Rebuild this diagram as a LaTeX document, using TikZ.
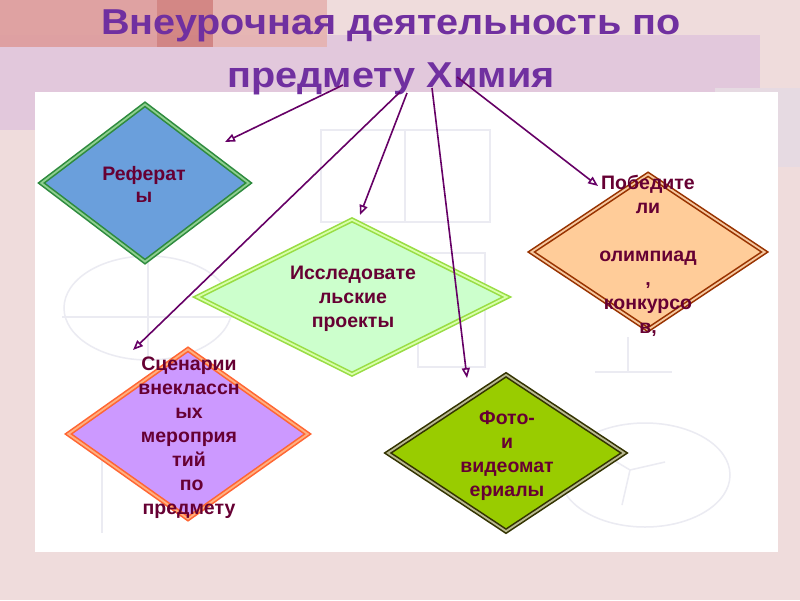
\documentclass[tikz,border=0pt]{standalone}
\usepackage{fontspec}
\setmainfont{Liberation Sans}
\usepackage{xcolor}
\usetikzlibrary{shapes.geometric,arrows.meta}
\definecolor{slidebg}{HTML}{EFDCDC}
\definecolor{lilac}{HTML}{E2C8DC}
\definecolor{rosea}{HTML}{DE9C9C}
\definecolor{roseb}{HTML}{D07E7C}
\definecolor{rosec}{HTML}{E6B2B0}
\definecolor{greyl}{HTML}{E6DAE2}
\definecolor{ghost}{HTML}{EBEBF2}
\definecolor{ttl}{HTML}{7030A0}
\definecolor{ink}{HTML}{660033}
\definecolor{arr}{HTML}{660066}
\definecolor{refbg}{HTML}{6A9FDC}
\definecolor{refdk}{HTML}{2E8B3E}
\definecolor{reflt}{HTML}{8FD08F}
\definecolor{resbg}{HTML}{CCFFCC}
\definecolor{resdk}{HTML}{99DD44}
\definecolor{reslt}{HTML}{D8FFAA}
\definecolor{winbg}{HTML}{FFCC99}
\definecolor{windk}{HTML}{993300}
\definecolor{winlt}{HTML}{F5C8A0}
\definecolor{scnbg}{HTML}{CC99FF}
\definecolor{scndk}{HTML}{FF6633}
\definecolor{scnlt}{HTML}{FFB080}
\definecolor{vidbg}{HTML}{99CC00}
\definecolor{viddk}{HTML}{333300}
\definecolor{vidlt}{HTML}{B8B890}

\begin{document}
\begin{tikzpicture}[x=1pt, y=-1pt, >={Triangle[open, length=10pt, width=8pt]},
    rhomb/.style={diamond, inner sep=0pt, line width=1.6pt, double distance=1.8pt},
    lbl/.style={text=ink, font=\fontsize{19.5}{24}\selectfont\bfseries, align=center, inner sep=0pt},
    link/.style={->, arr, line width=1.6pt},
    ghostline/.style={ghost, line width=1.5pt}]
    \fill[slidebg] (0,0) rectangle (800,600);
    \useasboundingbox (0,0) rectangle (800,600);
    \fill[lilac] (0,35) rectangle (760,130);
    \fill[rosea, opacity=.9] (0,0) rectangle (157,47);
    \fill[roseb, opacity=.9] (157,0) rectangle (213,47);
    \fill[rosec, opacity=.9] (213,0) rectangle (327,47);
    \fill[greyl] (715,88) rectangle (800,167);
    \fill[white] (35,92) rectangle (778,552);
    \draw[ghostline] (321,130) rectangle (405,222);
    \draw[ghostline] (405,130) rectangle (490,222);
    \draw[ghostline] (148,308) ellipse (84pt and 52pt);
    \draw[ghostline] (62,317) -- (234,317);
    \draw[ghostline] (148,256) -- (148,360);
    \draw[ghostline] (418,253) rectangle (485,367);
    \draw[ghostline] (628,337) -- (628,372);
    \draw[ghostline] (595,372) -- (672,372);
    \draw[ghostline] (645,475) ellipse (85pt and 52pt);
    \draw[ghostline] (605,455) -- (630,470) -- (665,462);
    \draw[ghostline] (630,470) -- (622,505);
    \draw[ghostline] (102,443) -- (102,533);

    \node[rhomb, fill=refbg, draw=refdk, double=reflt, minimum width=208pt, minimum height=158pt] (ref) at (145,183) {};
    \node[rhomb, fill=resbg, draw=resdk, double=reslt, minimum width=310pt, minimum height=155pt] (res) at (352,297) {};
    \node[rhomb, fill=winbg, draw=windk, double=winlt, minimum width=234pt, minimum height=156pt] (win) at (648,252) {};
    \node[rhomb, fill=scnbg, draw=scndk, double=scnlt, minimum width=240pt, minimum height=170pt] (scn) at (188,434) {};
    \node[rhomb, fill=vidbg, draw=viddk, double=vidlt, minimum width=237pt, minimum height=157pt] (vid) at (506,453) {};

    \node[lbl, font=\fontsize{19.5}{22}\selectfont\bfseries] (t-ref) at (144,184) {Реферат\\ы};
    \node[lbl] (t-res) at (353,299) {Исследовате\\льские\\проекты};
    \node[lbl] (t-win) at (648,256) {Победите\\ли\\[24pt]олимпиад\\,\\конкурсо\\в,};
    \node[lbl] (t-scn) at (189,438) {Сценарии\\внеклассн\\ых\\мероприя\\тий\\~по\\предмету};
    \node[lbl] (t-vid) at (507,456) {Фото-\\и\\видеомат\\ериалы};

    \node[text=ttl, font=\fontsize{36}{53}\selectfont\bfseries, align=center, inner sep=0pt] (title) at (391,52) {\scalebox{1.1}[1]{Внеурочная деятельность по}\\\scalebox{1.1}[1]{предмету Химия}};

    \coordinate (s-ref) at (343,85);
    \coordinate (s-scn) at (400,92);
    \coordinate (s-res) at (407,93);
    \coordinate (s-vid) at (432,88);
    \coordinate (s-win) at (457,77);
    \coordinate (e-ref) at (225,142);
    \coordinate (e-scn) at (133,350);
    \coordinate (e-res) at (360,215);
    \coordinate (e-vid) at (467,378);
    \coordinate (e-win) at (598,186);
    \draw[link] (s-ref) -- (e-ref);
    \draw[link] (s-scn) -- (e-scn);
    \draw[link] (s-res) -- (e-res);
    \draw[link] (s-vid) -- (e-vid);
    \draw[link] (s-win) -- (e-win);
\end{tikzpicture}
\end{document}
